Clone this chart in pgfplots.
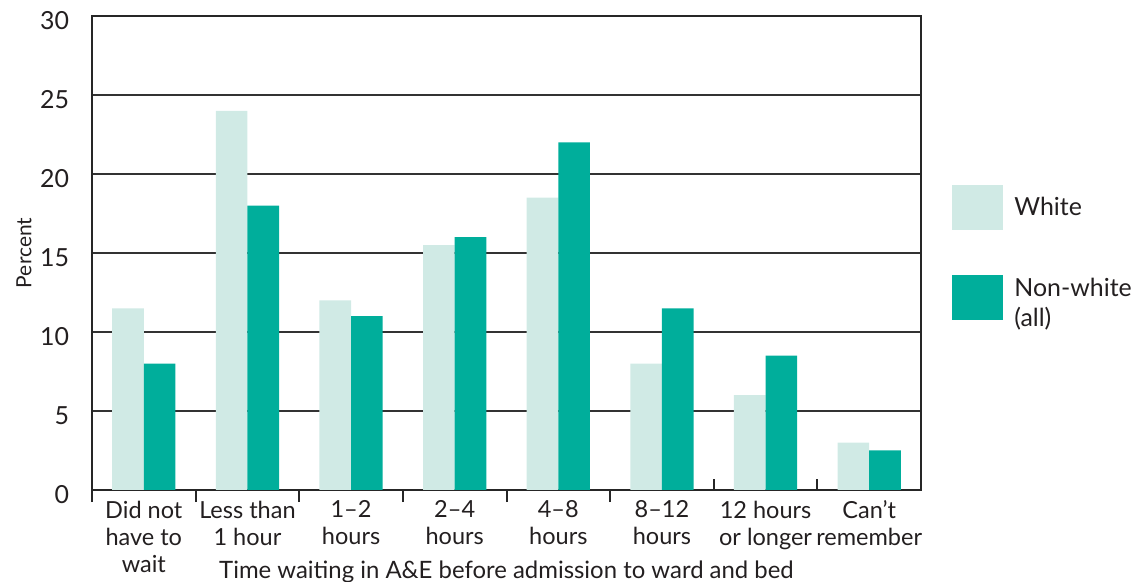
\documentclass[border=0pt]{standalone}
\usepackage{fontspec}
\setmainfont{Lato}
\usepackage{pgfplots}
\pgfplotsset{compat=1.18}
\definecolor{lightteal}{RGB}{208,234,229}
\definecolor{darkteal}{RGB}{0,174,155}
\definecolor{txt}{RGB}{35,31,32}

\pgfplotsset{
    whitebox/.style={legend image code/.code={\fill[##1] (0bp,-11.25bp) rectangle (25.5bp,11.25bp);}},
    nonwhitebox/.style={legend image code/.code={\fill[##1] (0bp,-8bp) rectangle (25.5bp,14.5bp);}},
}

\pgfplotstableread{
x white nonwhite
0 11.5 8
1 24 18
2 12 11
3 15.5 16
4 18.5 22
5 8 11.5
6 6 8.5
7 3 2.5
}\waittable

\begin{document}
\begin{tikzpicture}
\path[use as bounding box] (0,0) rectangle (570.5bp,291bp);
\begin{axis}[
    at={(46bp,46bp)},
    anchor=south west,
    scale only axis,
    width=414.5bp,
    height=237bp,
    ymin=0, ymax=30,
    xmin=-0.5, xmax=7.5,
    ytick={0,5,...,30},
    ymajorgrids=true,
    grid style={black!80, line width=0.9bp},
    axis line style={black!85, line width=1bp},
    major y tick style={draw=none},
    tick pos=left,
    ybar=0pt,
    bar width=0.305,
    xtick={0,...,7},
    xticklabels={Did not\\have to\\wait, Less than\\1 hour, 1--2\\hours, 2--4\\hours, 4--8\\hours, 8--12\\hours, 12 hours\\or longer, Can't\\remember},
    major x tick style={draw=none},
    minor xtick={-0.5,0.5,...,4.5},
    minor tick length=6bp,
    minor x tick style={black!85, line width=1bp},
    tick align=outside,
    extra x ticks={5.5,6.5,7.5},
    extra x tick labels={},
    extra x tick style={tick align=inside, major tick length=5.5bp, major x tick style={draw=black!85, line width=1bp}},
    /pgf/number format/assume math mode=true,
    xticklabel style={align=center, anchor=north, inner sep=0pt, yshift=-1bp,
        font=\fontsize{11.8}{13.5}\selectfont, text=txt},
    yticklabel style={font=\fontsize{12.5}{14}\selectfont, text=txt, anchor=east, inner sep=0pt, xshift=-7bp, yshift=-2.5bp},
    xlabel={Time waiting in A\&E before admission to ward and bed},
    xlabel style={at={(axis description cs:0.5,0)}, anchor=base, yshift=-44bp,
        font=\fontsize{12}{14}\selectfont, text=txt},
    ylabel={Percent},
    ylabel style={at={(axis description cs:-0.0820,0.5)}, anchor=center,
        font=\fontsize{10.5}{12}\selectfont, text=txt},
    legend style={at={(rel axis cs:1.0374,0.6435)}, anchor=north west, draw=none, fill=none,
        inner sep=0pt, row sep=22bp, font=\fontsize{12.5}{15}\selectfont, text=txt,
        cells={align=left, anchor=west},
        /tikz/every odd column/.append style={column sep=3.5bp}},
]
\addplot[fill=lightteal, draw=none, whitebox] table[x=x, y=white] {\waittable};
\addplot[fill=darkteal, draw=none, nonwhitebox] table[x=x, y=nonwhite] {\waittable};
\legend{White, Non-white\\(all)}
\end{axis}
\end{tikzpicture}
\end{document}
